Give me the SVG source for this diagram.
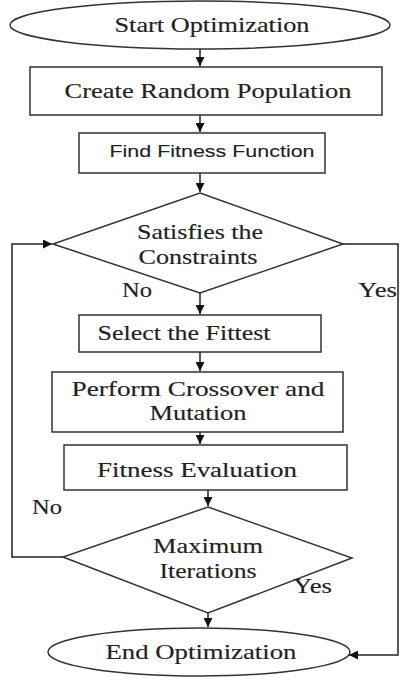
<svg xmlns="http://www.w3.org/2000/svg" width="403" height="681" viewBox="0 0 403 681">
<style>
.s{fill:#fff;stroke:#333;stroke-width:1.5}
.c{fill:none;stroke:#222;stroke-width:1.5}
.t{font-family:"Liberation Serif","Times New Roman",serif;font-size:21px;fill:#222;stroke:#222;stroke-width:0.15;text-anchor:middle}
.ts{font-family:"Liberation Sans",Arial,sans-serif;font-size:17px;fill:#222;stroke:#222;stroke-width:0.1;text-anchor:middle}
.l{font-family:"Liberation Serif","Times New Roman",serif;font-size:21px;fill:#222;stroke:#222;stroke-width:0.15}
</style>
<defs>
<marker id="a" viewBox="0 0 10 10" refX="10" refY="5" markerWidth="6" markerHeight="6" orient="auto" markerUnits="strokeWidth">
<path d="M0,0 L10,5 L0,10 z" fill="#111"/>
</marker>
</defs>
<rect width="403" height="681" fill="#fff"/>
<g id="connectors">
<line class="c" x1="200" y1="49" x2="200" y2="66" marker-end="url(#a)"/>
<line class="c" x1="200" y1="115" x2="200" y2="132" marker-end="url(#a)"/>
<line class="c" x1="200" y1="173" x2="200" y2="192" marker-end="url(#a)"/>
<line class="c" x1="200" y1="293" x2="200" y2="314" marker-end="url(#a)"/>
<line class="c" x1="200" y1="352" x2="200" y2="371" marker-end="url(#a)"/>
<line class="c" x1="200" y1="432" x2="200" y2="444" marker-end="url(#a)"/>
<line class="c" x1="208" y1="490" x2="208" y2="506" marker-end="url(#a)"/>
<line class="c" x1="208" y1="613" x2="208" y2="627" marker-end="url(#a)"/>
<polyline class="c" points="63,557 12,557 12,244 52,244" marker-end="url(#a)"/>
<polyline class="c" points="343,244 398,244 398,655 349,655" marker-end="url(#a)"/>
</g>
<g id="start">
<ellipse class="s" cx="200" cy="25" rx="190" ry="24"/>
<text class="t" x="212" y="32" textLength="195" lengthAdjust="spacingAndGlyphs">Start Optimization</text>
</g>
<g id="create">
<rect class="s" x="30" y="67" width="352" height="48"/>
<text class="t" x="208" y="98" textLength="287" lengthAdjust="spacingAndGlyphs">Create Random Population</text>
</g>
<g id="fitness-fn">
<rect class="s" x="79" y="133" width="246" height="40"/>
<text class="ts" x="212" y="157" textLength="205" lengthAdjust="spacingAndGlyphs">Find Fitness Function</text>
</g>
<g id="constraints">
<polygon class="s" points="200,193 343,244 200,293 53,244"/>
<text class="t" x="200" y="239" textLength="126" lengthAdjust="spacingAndGlyphs">Satisfies the</text>
<text class="t" x="198" y="264" textLength="119" lengthAdjust="spacingAndGlyphs">Constraints</text>
</g>
<g id="select">
<rect class="s" x="79" y="315" width="242" height="37"/>
<text class="t" x="184" y="340" textLength="173" lengthAdjust="spacingAndGlyphs">Select the Fittest</text>
</g>
<g id="crossover">
<rect class="s" x="52" y="372" width="291" height="60"/>
<text class="t" x="198" y="396" textLength="253" lengthAdjust="spacingAndGlyphs">Perform Crossover and</text>
<text class="t" x="198" y="420" textLength="97" lengthAdjust="spacingAndGlyphs">Mutation</text>
</g>
<g id="evaluation">
<rect class="s" x="64" y="445" width="283" height="45"/>
<text class="t" x="197" y="477" textLength="200" lengthAdjust="spacingAndGlyphs">Fitness Evaluation</text>
</g>
<g id="max-iter">
<polygon class="s" points="208,507 352,558 208,613 63,557"/>
<text class="t" x="208" y="553" textLength="110" lengthAdjust="spacingAndGlyphs">Maximum</text>
<text class="t" x="208" y="578" textLength="97" lengthAdjust="spacingAndGlyphs">Iterations</text>
</g>
<g id="end">
<ellipse class="s" cx="199" cy="652" rx="151" ry="24"/>
<text class="t" x="201" y="659" textLength="191" lengthAdjust="spacingAndGlyphs">End Optimization</text>
</g>
<g id="labels">
<text class="l" x="122" y="297" textLength="30" lengthAdjust="spacingAndGlyphs">No</text>
<text class="l" x="358" y="297" textLength="39" lengthAdjust="spacingAndGlyphs">Yes</text>
<text class="l" x="32" y="514" textLength="30" lengthAdjust="spacingAndGlyphs">No</text>
<text class="l" x="293" y="593" textLength="39" lengthAdjust="spacingAndGlyphs">Yes</text>
</g>
</svg>
